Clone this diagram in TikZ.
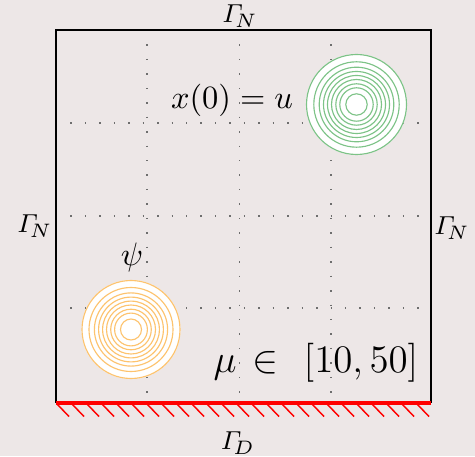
\documentclass[tikz,border=0pt]{standalone}
\usepackage{amsmath}
\definecolor{bg}{RGB}{237,231,231}
\definecolor{ringgreen}{RGB}{125,195,135}
\definecolor{ringorange}{RGB}{253,195,110}
\definecolor{dotgray}{RGB}{110,110,110}
\begin{document}
\begin{tikzpicture}[x=0.308pt,y=-0.308pt,
  gridline/.style={dotgray, line width=0.45pt, loosely dotted},
  boxline/.style={black, line width=0.6pt},
  wall/.style={red, line width=1pt},
  hatchline/.style={red, line width=0.45pt},
  greenring/.style={ringgreen, line width=0.35pt},
  orangering/.style={ringorange, line width=0.35pt},
  bndlabel/.style={inner sep=0pt, font=\fontsize{8.4}{10}\selectfont},
  biglabel/.style={inner sep=0pt, font=\fontsize{10}{12}\selectfont}]
\fill[bg] (0,0) rectangle (475,456);
\useasboundingbox (0,0) rectangle (475,456);
% grid
\foreach \g in {147,239.5,331} \draw[gridline] (\g,30) -- (\g,403);
\foreach \g in {123,216,308} \draw[gridline] (56,\g) -- (431,\g);
% initial condition rings
\fill[white] (356.5,104.5) circle (50.5);
\foreach \r in {50,42.7,37.3,33,29,25,20.7,16.7,10.7}
  \draw[greenring] (356.5,104.5) circle (\r);
% psi rings
\fill[white] (131,329.5) circle (49.5);
\foreach \r in {49,42,36.6,32.4,28.4,24.5,20.3,16.4,10.5}
  \draw[orangering] (131,329.5) circle (\r);
% box
\draw[boxline] (56,403) -- (56,30) -- (431,30) -- (431,403);
\draw[wall] (56,403) -- (431.3,403);
\foreach \k in {0,...,24}
  \draw[hatchline] ({57+15*\k},404) -- ({69+15*\k},416.5);
% labels
\node[bndlabel] (gtop) at (240,16) {$\varGamma_{\!N}$};
\node[bndlabel] (gleft) at (35,226) {$\varGamma_{\!N}$};
\node[bndlabel] (gright) at (452,228) {$\varGamma_{\!N}$};
\node[bndlabel] (gbot) at (238,443) {$\varGamma_{\!D}$};
\node[biglabel] (xinit) at (232,100) {$x(0) = u$};
\node[biglabel] (psi) at (132,257) {$\psi$};
\node[inner sep=0pt, font=\fontsize{11.8}{14}\selectfont] (mu) at (316,363) {$\mu\hspace{1.5pt}\in\hspace{4.5pt}[10,50]$};
\end{tikzpicture}
\end{document}
